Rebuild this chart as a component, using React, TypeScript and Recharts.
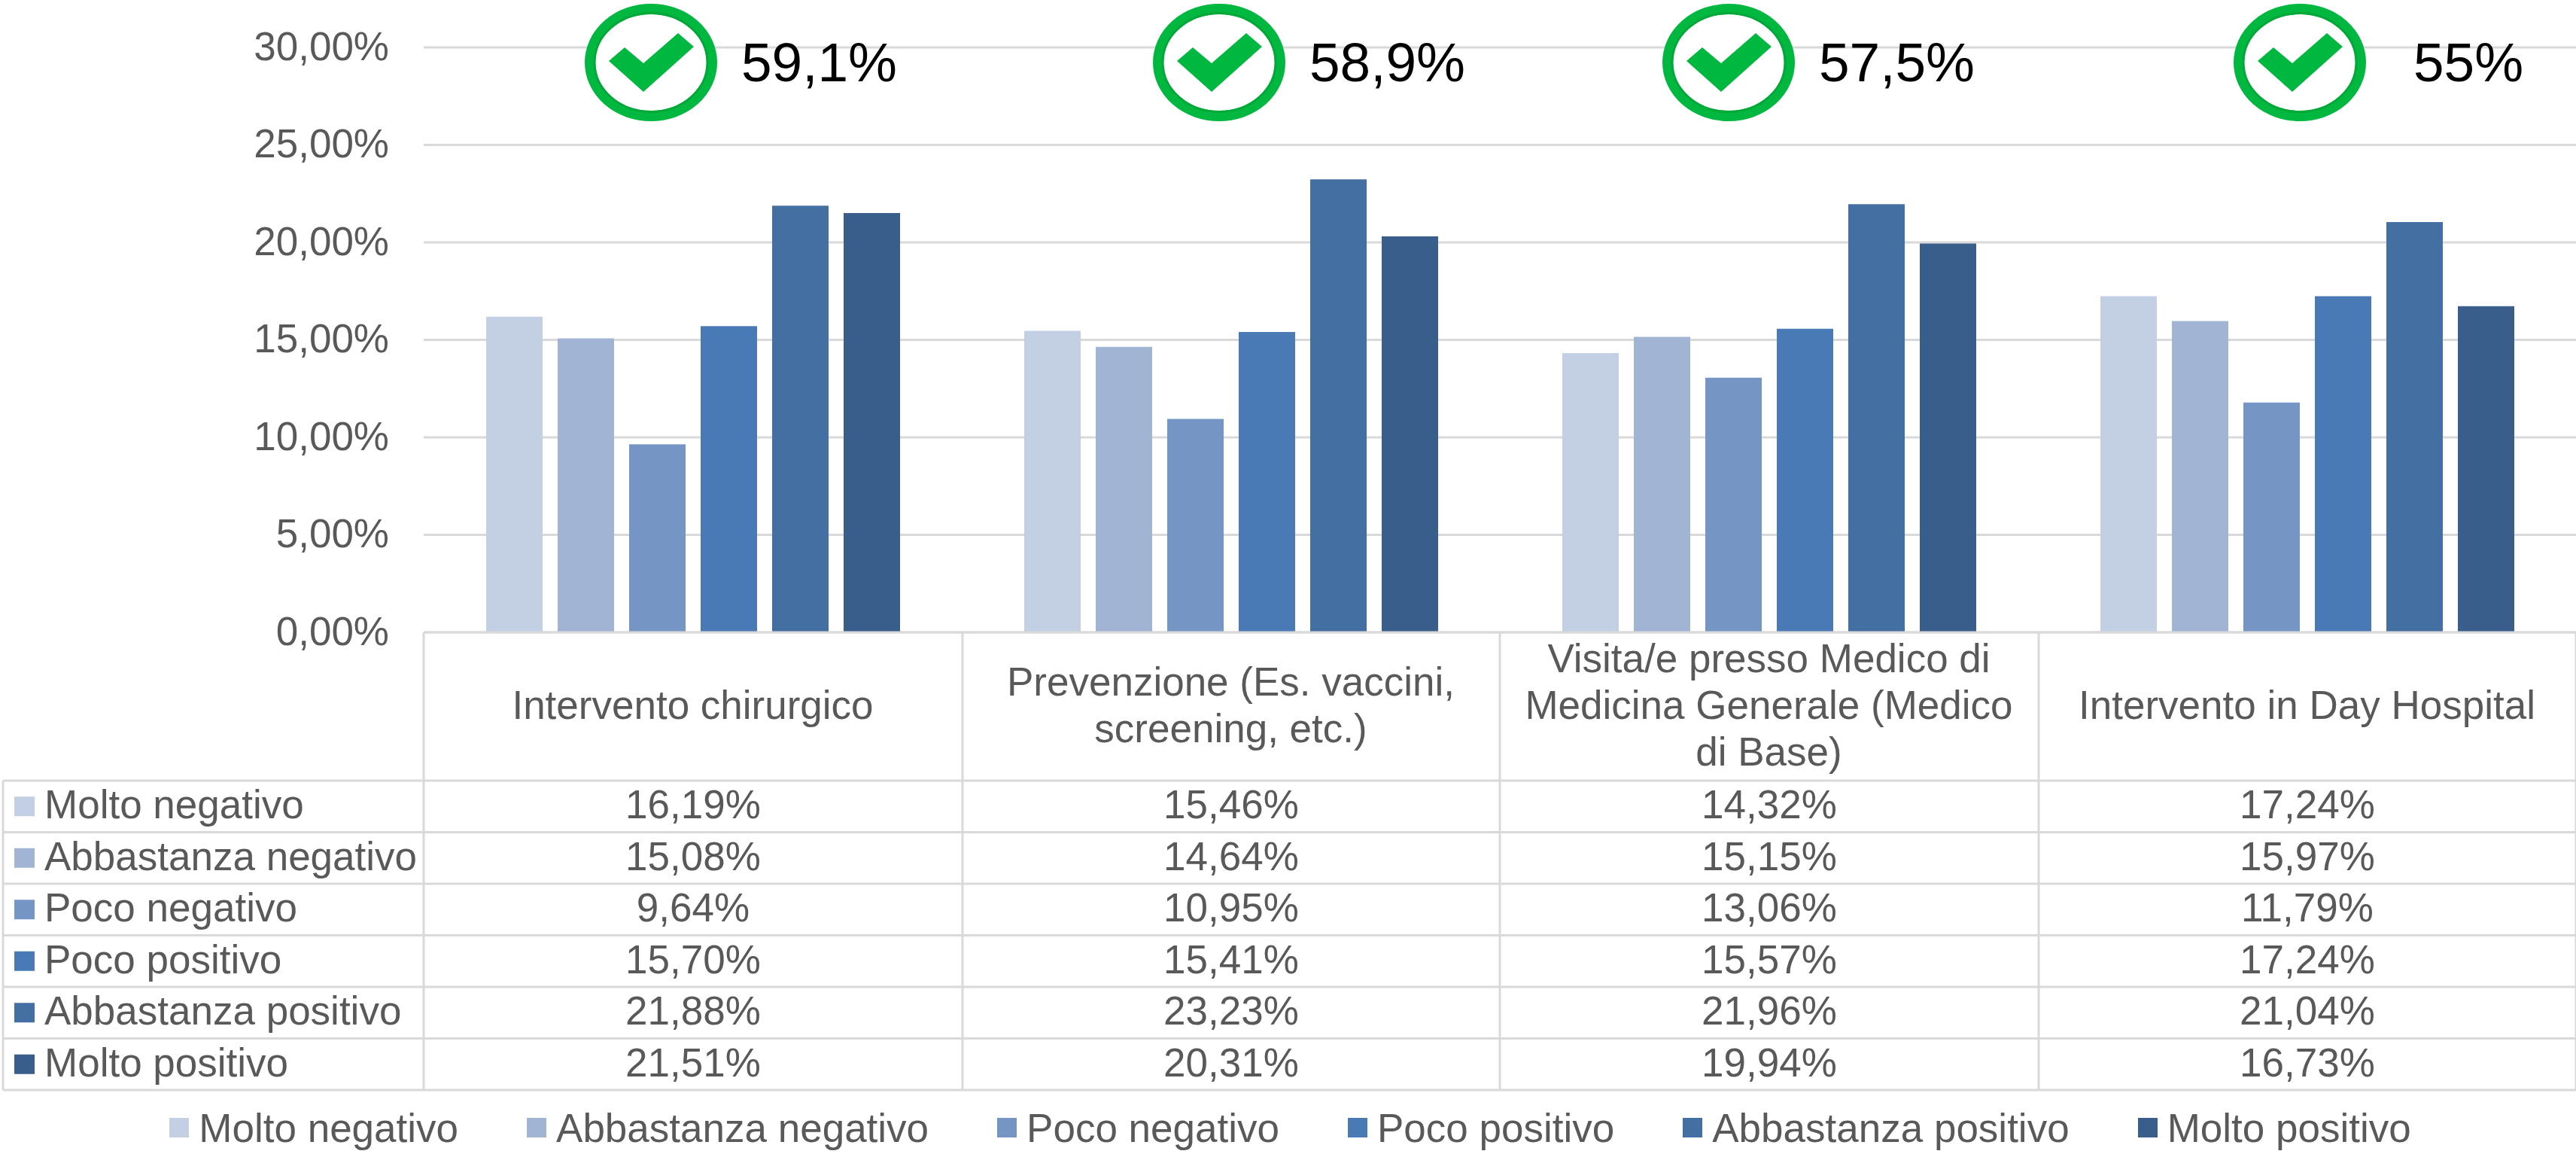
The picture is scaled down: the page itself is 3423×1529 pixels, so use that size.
import { Bar, BarChart, CartesianGrid, Legend, XAxis, YAxis } from "recharts";

const categories = [
  "Intervento chirurgico",
  "Prevenzione (Es. vaccini,\nscreening, etc.)",
  "Visita/e presso Medico di\nMedicina Generale (Medico\ndi Base)",
  "Intervento in Day Hospital",
];
const seriesNames = [
  "Molto negativo",
  "Abbastanza negativo",
  "Poco negativo",
  "Poco positivo",
  "Abbastanza positivo",
  "Molto positivo",
];
const moltoNegativo = [16.19, 15.46, 14.32, 17.24];
const abbastanzaNegativo = [15.08, 14.64, 15.15, 15.97];
const pocoNegativo = [9.64, 10.95, 13.06, 11.79];
const pocoPositivo = [15.7, 15.41, 15.57, 17.24];
const abbastanzaPositivo = [21.88, 23.23, 21.96, 21.04];
const moltoPositivo = [21.51, 20.31, 19.94, 16.73];
const yTicks = [0, 5, 10, 15, 20, 25, 30];
const badgeLabels = ["59,1%", "58,9%", "57,5%", "55%"];

const seriesValues = [
  moltoNegativo,
  abbastanzaNegativo,
  pocoNegativo,
  pocoPositivo,
  abbastanzaPositivo,
  moltoPositivo,
];

const colors = ["#C3CFE3", "#A2B4D4", "#7596C5", "#4A7AB5", "#446FA2", "#3A5E8C"];
const FONT = '"Liberation Sans", Arial, sans-serif';
const TEXT = "#595959";
const LINE = "#D9D9D9";
const W = 3423;
const H = 1529;
const FS = 53;

// table geometry
const colX = [563, 1279, 1993, 2709, 3423];
const tableLeft = 4;
const axisY = 840;
const rowTop = 1037;
const rowH = 68.5;

// badge geometry
const badgeCx = [865, 1620, 2297, 3056];
const badgeTextX = [985, 1740, 2417, 3207];

const rows = categories.map((name, i) => {
  const row: Record<string, number | string> = { name };
  seriesNames.forEach((s, j) => {
    row[s] = seriesValues[j][i];
  });
  return row;
});

const pct = (v: number) => `${v.toFixed(2).replace(".", ",")}%`;

function CategoryTick({ x, y, payload }: any) {
  const lines = String(payload.value).split("\n");
  const centre = y + 90;
  return (
    <text textAnchor="middle" fontFamily={FONT} fontSize={FS} fill={TEXT}>
      {lines.map((l, i) => (
        <tspan key={i} x={x} y={centre + 17 + (i - (lines.length - 1) / 2) * 62}>
          {l}
        </tspan>
      ))}
    </text>
  );
}

function ChartLegend() {
  return (
    <div
      style={{
        height: 58,
        display: "flex",
        justifyContent: "center",
        alignItems: "center",
        gap: 91,
        fontFamily: FONT,
        fontSize: FS,
        color: TEXT,
        paddingLeft: 6,
        position: "relative",
        top: -2,
      }}
    >
      {seriesNames.map((s, i) => (
        <div key={s} style={{ display: "flex", alignItems: "center", gap: 13 }}>
          <span style={{ width: 26, height: 26, background: colors[i], display: "inline-block" }} />
          <span>{s}</span>
        </div>
      ))}
    </div>
  );
}

function DataTable() {
  const bottom = rowTop + rowH * seriesNames.length;
  return (
    <svg
      width={W}
      height={H}
      style={{ position: "absolute", left: 0, top: 0, pointerEvents: "none" }}
    >
      {/* header cell verticals */}
      {colX.map((x) => (
        <line key={x} x1={x} x2={x} y1={axisY} y2={bottom} stroke={LINE} strokeWidth={3} />
      ))}
      <line x1={tableLeft} x2={tableLeft} y1={rowTop} y2={bottom} stroke={LINE} strokeWidth={3} />
      {seriesNames.map((_, i) => (
        <line
          key={i}
          x1={tableLeft}
          x2={W}
          y1={rowTop + rowH * i}
          y2={rowTop + rowH * i}
          stroke={LINE}
          strokeWidth={3}
        />
      ))}
      <line x1={tableLeft} x2={W} y1={bottom} y2={bottom} stroke={LINE} strokeWidth={3} />
      {seriesNames.map((s, i) => {
        const mid = rowTop + rowH * i + rowH / 2;
        return (
          <g key={s}>
            <rect x={19} y={mid - 13} width={27} height={26} fill={colors[i]} />
            <text x={59} y={mid + 16} fontFamily={FONT} fontSize={FS} fill={TEXT}>
              {s}
            </text>
            {seriesValues[i].map((v, j) => (
              <text
                key={j}
                x={(colX[j] + colX[j + 1]) / 2}
                y={mid + 16}
                textAnchor="middle"
                fontFamily={FONT}
                fontSize={FS}
                fill={TEXT}
              >
                {pct(v)}
              </text>
            ))}
          </g>
        );
      })}
    </svg>
  );
}

function Badges() {
  return (
    <svg
      width={W}
      height={H}
      style={{ position: "absolute", left: 0, top: 0, pointerEvents: "none" }}
    >
      {badgeLabels.map((label, i) => {
        const cx = badgeCx[i];
        const cy = 83;
        return (
          <g key={label}>
            <ellipse cx={cx} cy={cy} rx={81} ry={71} fill="#fff" stroke="#00B840" strokeWidth={14} />
            <ellipse cx={cx} cy={cy} rx={75} ry={65.5} fill="none" stroke="#00A838" strokeWidth={3} />
            <polygon
              points={[
                [-56, -2],
                [-35, -20],
                [-10, 1],
                [36, -39],
                [57, -21],
                [-10, 39],
              ]
                .map(([x, y]) => `${cx + x},${cy + y}`)
                .join(" ")}
              fill="#00B840"
            />
            <text x={badgeTextX[i]} y={108} fontFamily={FONT} fontSize={73} fill="#000">
              {label}
            </text>
          </g>
        );
      })}
    </svg>
  );
}

export default function App() {
  return (
    <div style={{ position: "absolute", left: 0, top: 0, width: W, height: H, background: "#fff" }}>
      <BarChart
        width={W}
        height={H}
        data={rows}
        margin={{ top: 63, right: 0, bottom: 0, left: 0 }}
        barGap={20}
        barCategoryGap={83}
      >
        <CartesianGrid vertical={false} stroke={LINE} strokeWidth={3} />
        <XAxis
          dataKey="name"
          height={631}
          interval={0}
          tick={<CategoryTick />}
          tickLine={false}
          axisLine={{ stroke: LINE, strokeWidth: 3 }}
        />
        <YAxis
          width={563}
          domain={[0, 30]}
          ticks={yTicks}
          tickFormatter={pct}
          axisLine={false}
          tickLine={false}
          tickMargin={40}
          tick={{ fill: TEXT, fontSize: FS, fontFamily: FONT, dy: -2 }}
        />
        <Legend content={<ChartLegend />} />
        {seriesNames.map((s, i) => (
          <Bar key={s} dataKey={s} fill={colors[i]} isAnimationActive={false} />
        ))}
      </BarChart>
      <DataTable />
      <Badges />
    </div>
  );
}
